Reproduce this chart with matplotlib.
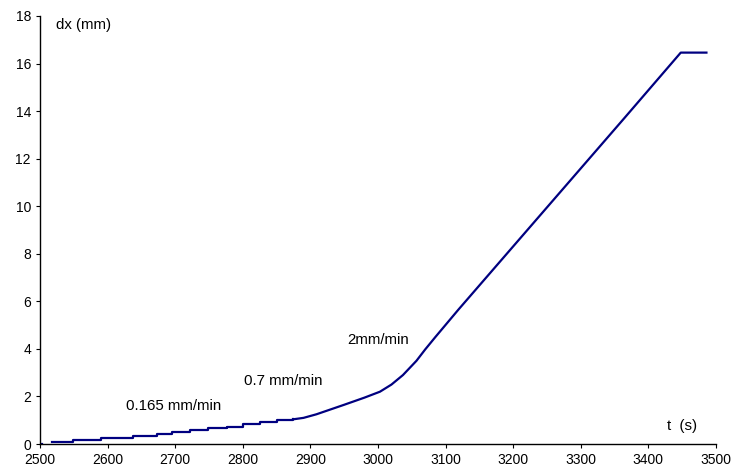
import numpy as np
import matplotlib.pyplot as plt

plt.rcParams.update({
    "font.family": ["Liberation Sans", "DejaVu Sans"],
    "font.size": 10.8,
    "xtick.labelsize": 10,
    "ytick.labelsize": 10,
    "axes.linewidth": 1.0,
    "xtick.direction": "out",
    "ytick.direction": "out",
    "xtick.major.size": 3,
    "ytick.major.size": 3,
})

# 0.165 mm/min phase, recorded as steps
step_t = [2518, 2549, 2591, 2638, 2673, 2695, 2722, 2749, 2776, 2801, 2825, 2850, 2875]
step_dx = [0.07, 0.15, 0.24, 0.34, 0.42, 0.49, 0.58, 0.66, 0.73, 0.83, 0.91, 1.00, 1.04]

# 0.7 mm/min and 2 mm/min phases, then hold
ramp_t = [2875, 2890, 2909, 2950, 2980, 3003, 3020, 3037, 3057, 3070, 3085, 3119, 3240, 3365, 3448, 3486]
ramp_dx = [1.04, 1.10, 1.25, 1.65, 1.95, 2.20, 2.50, 2.90, 3.50, 3.98, 4.50, 5.65, 9.62, 13.72, 16.46, 16.46]

# first sample at origin
start_t = [2500, 2503]
start_dx = [0.0, 0.0]

fig = plt.figure(figsize=(7.32, 4.76), dpi=100)
ax = fig.add_axes([0.0546, 0.0672, 0.9234, 0.8992])

line_color = "#000080"
ax.plot(start_t, start_dx, color=line_color, linewidth=1.6)
ax.plot(step_t, step_dx, color=line_color, linewidth=1.6, drawstyle="steps-post")
ax.plot(ramp_t, ramp_dx, color=line_color, linewidth=1.6)

ax.set_xlim(2500, 3500)
ax.set_ylim(0, 18)
ax.set_xticks(np.arange(2500, 3501, 100))
ax.set_yticks(np.arange(0, 19, 2))

ax.spines["top"].set_visible(False)
ax.spines["right"].set_visible(False)

ax.text(2524, 17.62, "dx (mm)", va="center", ha="left")
ax.text(3427, 0.76, "t  (s)", va="center", ha="left")
ax.text(2627, 1.6, "0.165 mm/min", va="center", ha="left")
ax.text(2802, 2.65, "0.7 mm/min", va="center", ha="left")
ax.text(2954, 4.37, "2mm/min", va="center", ha="left")

fig.savefig("out.png", dpi=100)
